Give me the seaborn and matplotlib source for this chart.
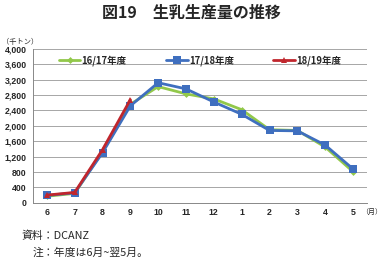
import matplotlib
matplotlib.use("Agg")
import matplotlib.pyplot as plt
import seaborn as sns
import pandas as pd
import numpy as np

months = ["6", "7", "8", "9", "10", "11", "12", "1", "2", "3", "4", "5"]
s1617 = [170, 245, 1330, 2560, 3020, 2830, 2700, 2420, 1900, 1880, 1450, 810]
s1718 = [190, 260, 1300, 2520, 3120, 2960, 2620, 2300, 1880, 1870, 1500, 880]
s1819 = [200, 270, 1380, 2680]
series_names = ["16/17年度", "17/18年度", "18/19年度"]
yticks = list(range(0, 4001, 400))

sns.set_theme(style="white")
plt.rcParams['font.family'] = ['Noto Sans CJK JP', 'DejaVu Sans']

rows = []
for name, vals in zip(series_names, [s1617, s1718, s1819]):
    for i, v in enumerate(vals):
        rows.append({"pos": i, "month": months[i], "value": v, "series": name})
df = pd.DataFrame(rows)

fig = plt.figure(figsize=(3.83, 2.60), dpi=100)
ax = fig.add_axes([0.086, 0.220, 0.872, 0.592])

palette = {"16/17年度": "#92C84A", "17/18年度": "#3F6FBF", "18/19年度": "#C0262D"}
markers = {"16/17年度": "D", "17/18年度": "s", "18/19年度": "^"}
sizes = {"16/17年度": 3.5, "17/18年度": 6, "18/19年度": 5}
for name in series_names:
    d = df[df.series == name]
    sns.lineplot(data=d, x="pos", y="value", ax=ax, color=palette[name],
                 marker=markers[name], markersize=sizes[name], linewidth=2.0,
                 markeredgewidth=0, label=name)

ax.set_xlim(-0.5, 11.5)
ax.set_ylim(0, 4000)
ax.set_yticks(yticks)
ax.set_yticklabels([f"{v:,}" for v in yticks], fontsize=6.3, fontweight="bold",
                   family=['Liberation Sans', 'DejaVu Sans'])
ax.set_xticks(range(len(months)))
ax.set_xticklabels(months, fontsize=6.3, fontweight="bold",
                   family=['Liberation Sans', 'DejaVu Sans'])
ax.set_xticks(np.arange(-0.5, 12, 1), minor=True)
ax.tick_params(axis="x", which="major", length=0, pad=4)
ax.tick_params(axis="x", which="minor", length=3, width=0.6, color="#888888", direction="out")
ax.tick_params(axis="y", which="major", length=3, width=0.6, color="#888888", direction="out", pad=1.5)
ax.set_xlabel("")
ax.set_ylabel("")
ax.yaxis.grid(True, color="#A6A6A6", linewidth=0.7)
ax.set_axisbelow(True)
for s in ["top", "right"]:
    ax.spines[s].set_visible(False)
for s in ["left", "bottom"]:
    ax.spines[s].set_color("#888888")
    ax.spines[s].set_linewidth(0.7)

leg = ax.legend(loc="upper center", bbox_to_anchor=(0.5, 1.0), ncol=3, frameon=False,
                prop={"size": 6.8, "weight": "bold"}, handlelength=2.3,
                handletextpad=0.1, columnspacing=4.2, borderaxespad=0.3)

fig.text(0.5, 0.952, "図19　生乳生産量の推移", ha="center", va="center",
         fontsize=11.5, fontweight="bold")
fig.text(0.005, 0.838, "（千トン）", ha="left", va="center", fontsize=5.2)
fig.text(0.997, 0.183, "（月）", ha="right", va="center", fontsize=5.0)
fig.text(0.055, 0.092, "資料：DCANZ", ha="left", va="center", fontsize=7.8)
fig.text(0.085, 0.030, "注：年度は6月~翌5月。", ha="left", va="center", fontsize=7.8)

fig.savefig("out.png", dpi=100)
